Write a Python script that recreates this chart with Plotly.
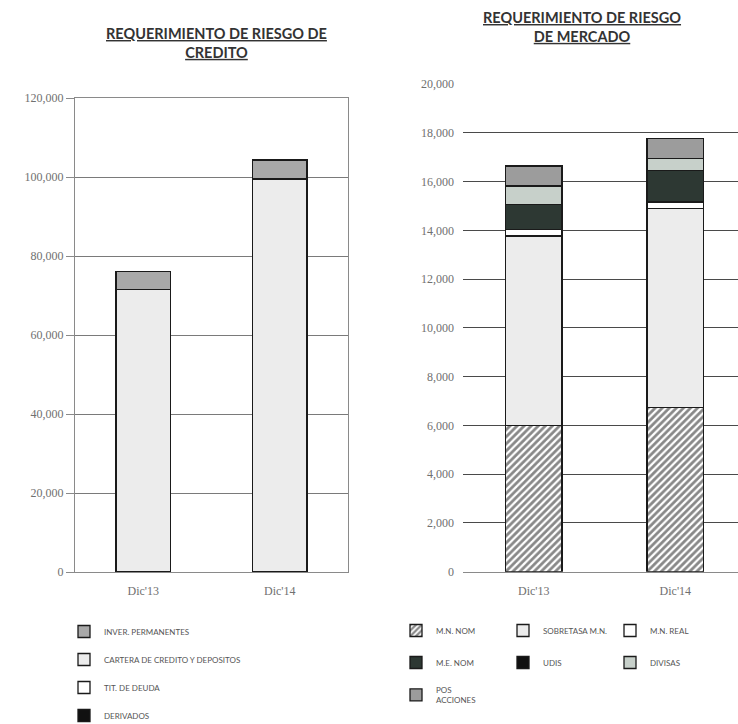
import plotly.graph_objects as go

# Periods shown on both charts
periods = ["Dic'13", "Dic'14"]

# Credit-risk capital requirement (stacked, bottom to top)
derivados = [0, 0]
tit_deuda = [0, 0]
cartera = [71600, 99500]
inver_perm = [4450, 4800]

# Market-risk capital requirement (stacked, bottom to top)
mn_nom = [6000, 6720]
sobretasa_mn = [7770, 8165]
mn_real = [275, 275]
me_nom = [1020, 1295]
udis = [0, 0]
divisas = [750, 490]
pos_acciones = [820, 830]

# Tick labels
credito_ticks = [0, 20000, 40000, 60000, 80000, 100000, 120000]
mercado_ticks = list(range(0, 20001, 2000))

W, H = 738, 724
fig = go.Figure()

line_black = dict(color="#1a1a1a", width=1.3)
legend_font = dict(family="Lato", size=8, color="#555555")

# ---- Credit risk chart (left) ----
credito_series = [
    (derivados, "DERIVADOS", "#111111", 4),
    (tit_deuda, "TIT. DE DEUDA", "#ffffff", 3),
    (cartera, "CARTERA DE CREDITO Y DEPOSITOS", "#ececec", 2),
    (inver_perm, "INVER. PERMANENTES", "#a9a9a9", 1),
]
for vals, name, color, rank in credito_series:
    fig.add_trace(go.Bar(
        x=periods, y=vals, name=name, xaxis="x", yaxis="y",
        marker=dict(color=color, line=line_black), width=0.4,
        legend="legend", legendgroup=name, legendrank=rank,
    ))

# ---- Market risk chart (right) ----
hatch = dict(shape="/", fgcolor="#111111", bgcolor="#ffffff", size=5, solidity=0.55)
mercado_series = [
    (mn_nom, "M.N. NOM", dict(color="#ffffff", line=line_black, pattern=hatch), "legend2"),
    (sobretasa_mn, "SOBRETASA M.N.", dict(color="#ececec", line=line_black), "legend2"),
    (mn_real, "M.N. REAL", dict(color="#ffffff", line=line_black), "legend2"),
    (me_nom, "M.E. NOM", dict(color="#2d3833", line=line_black), "legend3"),
    (udis, "UDIS", dict(color="#111111", line=line_black), "legend3"),
    (divisas, "DIVISAS", dict(color="#c7d0ca", line=line_black), "legend3"),
    (pos_acciones, "POS<br>ACCIONES", dict(color="#9c9c9c", line=line_black), "legend4"),
]
for vals, name, marker, leg in mercado_series:
    fig.add_trace(go.Bar(
        x=periods, y=vals, name=name, xaxis="x2", yaxis="y2",
        marker=marker, width=0.4, legend=leg,
    ))

tick_font = dict(family="Liberation Serif", size=12, color="#707070")

fig.update_layout(
    width=W, height=H,
    margin=dict(l=0, r=0, t=0, b=0, autoexpand=False),
    paper_bgcolor="#ffffff", plot_bgcolor="#ffffff",
    barmode="stack",
    xaxis=dict(domain=[75 / W, 348 / W], anchor="y", range=[-0.5, 1.5],
               showline=True, mirror=True, linecolor="#8a8a8a", linewidth=1,
               ticks="", ticklabelstandoff=8, tickfont=tick_font, showgrid=False),
    yaxis=dict(domain=[1 - 572 / H, 1 - 98 / H], anchor="x", range=[0, 120000],
               tickvals=credito_ticks, tickformat=",d",
               showline=True, mirror=True, linecolor="#8a8a8a", linewidth=1,
               ticks="outside", ticklen=8, tickcolor="#8a8a8a",
               gridcolor="#7a7a7a", gridwidth=1, tickfont=tick_font, zeroline=False),
    xaxis2=dict(domain=[463 / W, 1.0], anchor="y2", range=[-0.5, 1.443],
                showline=True, linecolor="#8a8a8a", linewidth=1,
                ticks="", ticklabelstandoff=8, tickfont=tick_font, showgrid=False),
    yaxis2=dict(domain=[1 - 571.7 / H, 1 - 84 / H], anchor="x2", range=[0, 20000],
                tickvals=mercado_ticks, tickformat=",d",
                showline=False, ticks="", ticklabelstandoff=8,
                gridcolor="#4a4a4a", gridwidth=1.2, tickfont=tick_font, zeroline=False),
    legend=dict(x=64 / W, y=1 - 617 / H, xanchor="left", yanchor="top",
                orientation="v", traceorder="grouped", tracegroupgap=9,
                font=legend_font, bgcolor="rgba(0,0,0,0)"),
    legend2=dict(x=396 / W, y=1 - 616 / H, xanchor="left", yanchor="top",
                 orientation="h", entrywidth=62, font=legend_font,
                 bgcolor="rgba(0,0,0,0)", traceorder="normal"),
    legend3=dict(x=396 / W, y=1 - 648 / H, xanchor="left", yanchor="top",
                 orientation="h", entrywidth=62, font=legend_font,
                 bgcolor="rgba(0,0,0,0)", traceorder="normal"),
    legend4=dict(x=396 / W, y=1 - 678 / H, xanchor="left", yanchor="top",
                 orientation="h", font=legend_font,
                 bgcolor="rgba(0,0,0,0)", traceorder="normal"),
    showlegend=True,
    annotations=[
        dict(text="<b><u>REQUERIMIENTO DE RIESGO DE</u></b><br><b><u>CREDITO</u></b>",
             x=216 / W, y=1 - 23 / H, xref="paper", yref="paper",
             xanchor="center", yanchor="top", showarrow=False,
             font=dict(family="Lato", size=14.5, color="#333333")),
        dict(text="<b><u>REQUERIMIENTO DE RIESGO</u></b><br><b><u>DE MERCADO</u></b>",
             x=582 / W, y=1 - 7 / H, xref="paper", yref="paper",
             xanchor="center", yanchor="top", showarrow=False,
             font=dict(family="Lato", size=14.5, color="#333333")),
    ],
)

fig.write_html("out.html")
